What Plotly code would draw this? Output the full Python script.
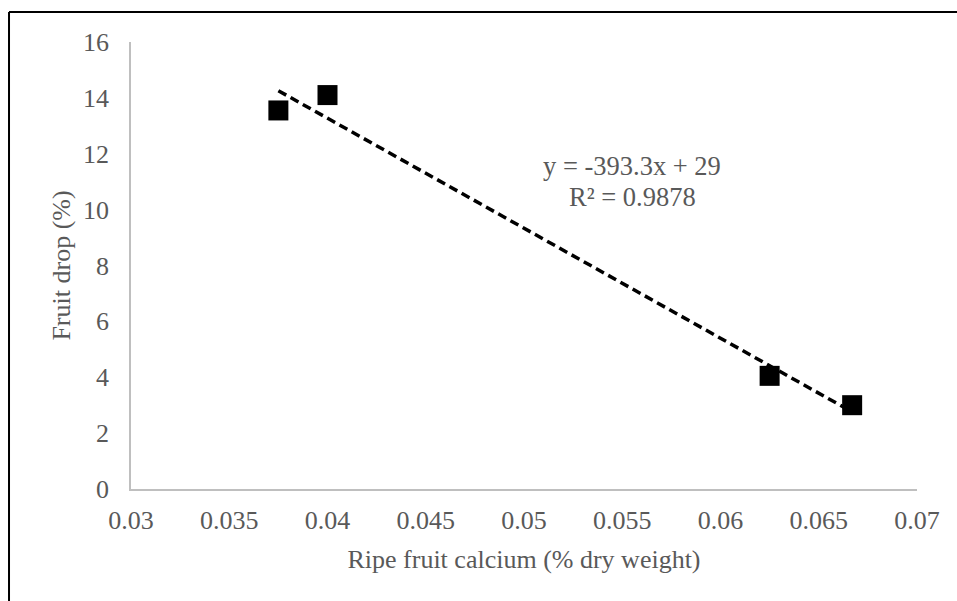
import numpy as np
import plotly.graph_objects as go

# Data
calcium = [0.0375, 0.04, 0.0625, 0.0667]
fruit_drop = [13.55, 14.1, 4.05, 3.0]
x_ticks = [0.03, 0.035, 0.04, 0.045, 0.05, 0.055, 0.06, 0.065, 0.07]
x_tick_labels = ["0.03", "0.035", "0.04", "0.045", "0.05", "0.055", "0.06", "0.065", "0.07"]
y_ticks = [0, 2, 4, 6, 8, 10, 12, 14, 16]
eq_text = "y = -393.3x + 29"
r2_text = "R² = 0.9878"

slope, intercept = np.polyfit(calcium, fruit_drop, 1)
tx = [min(calcium), max(calcium)]
ty = [slope * v + intercept for v in tx]

FONT = "Liberation Serif, Times New Roman, serif"
TXT = "#595959"

fig = go.Figure()
fig.add_trace(go.Scatter(x=tx, y=ty, mode="lines",
                         line=dict(color="black", width=3.5, dash="9px,5px"),
                         showlegend=False, hoverinfo="skip"))
fig.add_trace(go.Scatter(x=calcium, y=fruit_drop, mode="markers",
                         marker=dict(symbol="square", size=20, color="black"),
                         showlegend=False))

fig.add_annotation(x=0.0555, y=11.55, xref="x", yref="y", text=eq_text,
                   showarrow=False, font=dict(family=FONT, size=26.5, color=TXT))
fig.add_annotation(x=0.0555, y=10.45, xref="x", yref="y", text=r2_text,
                   showarrow=False, font=dict(family=FONT, size=26.5, color=TXT))

# chart border (top and left only)
fig.add_shape(type="line", xref="paper", yref="paper", x0=-0.1552, x1=1.2,
              y0=1.0671, y1=1.0671, line=dict(color="black", width=2))
fig.add_shape(type="line", xref="paper", yref="paper", x0=-0.1552, x1=-0.1552,
              y0=1.0671, y1=-0.4, line=dict(color="black", width=2))

fig.update_layout(
    width=957, height=601,
    margin=dict(l=131, r=40, t=42, b=112),
    paper_bgcolor="white", plot_bgcolor="white",
    font=dict(family=FONT, color=TXT, size=26),
    xaxis=dict(range=[0.03, 0.07], tickvals=x_ticks, ticktext=x_tick_labels,
               showgrid=False, zeroline=False, showline=True, linecolor="#bfbfbf",
               linewidth=1.5, ticks="", ticklabelstandoff=7,
               tickfont=dict(family=FONT, size=26, color=TXT),
               title=dict(text="Ripe fruit calcium (% dry weight)", standoff=16,
                          font=dict(family=FONT, size=26, color=TXT))),
    yaxis=dict(range=[0, 16], tickvals=y_ticks,
               showgrid=False, zeroline=False, showline=True, linecolor="#bfbfbf",
               linewidth=1.5, ticks="", ticklabelstandoff=15,
               tickfont=dict(family=FONT, size=26, color=TXT),
               title=dict(text="Fruit drop (%)", standoff=5,
                          font=dict(family=FONT, size=26, color=TXT))),
)

fig.write_html("out.html", config={"displayModeBar": False},
               post_script="document.body.style.margin='0';document.body.style.overflow='hidden';")
